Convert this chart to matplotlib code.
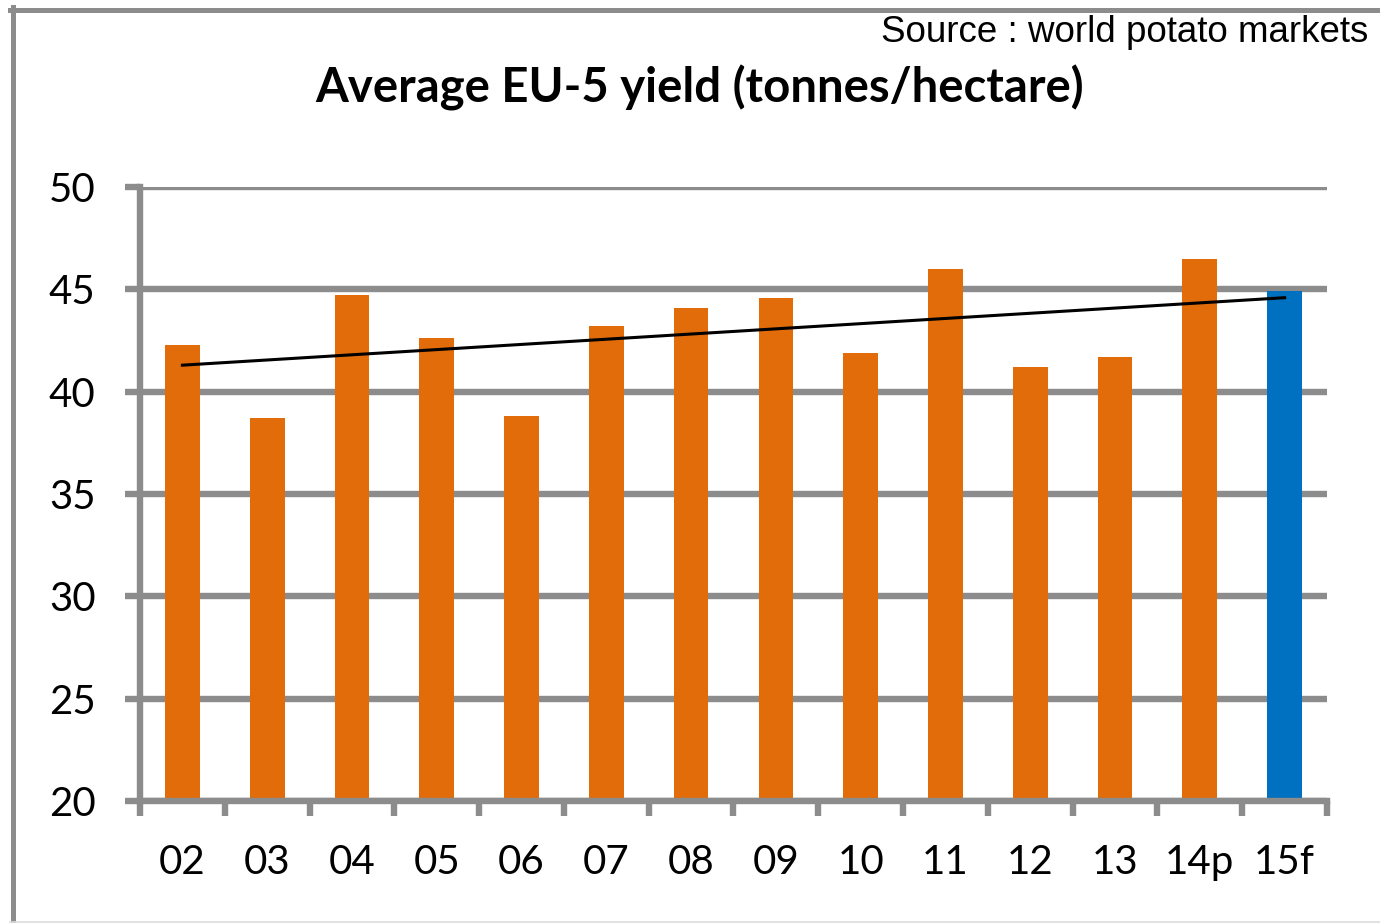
import matplotlib
matplotlib.use("Agg")
import matplotlib.pyplot as plt
import numpy as np
from matplotlib.lines import Line2D

categories = ["02", "03", "04", "05", "06", "07", "08", "09", "10", "11", "12", "13", "14p", "15f"]
yields = [42.3, 38.7, 44.7, 42.6, 38.8, 43.2, 44.1, 44.6, 41.9, 46.0, 41.2, 41.7, 46.5, 44.9]
bar_colors = ["#E36C0A"] * 13 + ["#0070C0"]
yticks = [20, 25, 30, 35, 40, 45, 50]

title = "Average EU-5 yield (tonnes/hectare)"
source = "Source : world potato markets"

GRAY = "#8C8C8C"
LW = 4.6

fig = plt.figure(figsize=(13.8, 9.23), dpi=100)
ax = fig.add_axes([140/1380, 1-801/923, (1327-140)/1380, (801-187)/923])

x = np.arange(len(categories))
ax.bar(x, [v - 20 for v in yields], bottom=20, width=0.41, color=bar_colors, zorder=3)

# linear trend
coef = np.polyfit(x, yields, 1)
ax.plot([x[0], x[-1]], np.polyval(coef, [x[0], x[-1]]), color="black", lw=2.2, zorder=4)

ax.set_xlim(-0.5, len(categories) - 0.5)
ax.set_ylim(20, 50)
ax.set_yticks(yticks)
ax.set_yticklabels([str(t) for t in yticks], fontsize=29, family="Lato")
ax.yaxis.grid(True, color=GRAY, lw=LW, zorder=1)
ax.set_axisbelow(True)

ax.set_xticks(np.arange(-0.5, len(categories), 1.0))
ax.set_xticklabels([])
ax.set_xticks(x, minor=True)
ax.set_xticklabels(categories, minor=True, fontsize=29, family="Lato")
ax.tick_params(axis="x", which="major", length=11, width=LW, color=GRAY, direction="out")
ax.tick_params(axis="x", which="minor", length=0, pad=31)
ax.tick_params(axis="y", length=11, width=LW, color=GRAY, pad=21)

for s in ["top", "right"]:
    ax.spines[s].set_visible(False)
for s in ["left", "bottom"]:
    ax.spines[s].set_color(GRAY)
    ax.spines[s].set_linewidth(LW)
    ax.spines[s].set_zorder(5)

fig.text(700/1380, 1-88/923, title, ha="center", va="center", fontsize=34,
         fontweight="bold", family="Lato")
fig.text(1368/1380, 1-33/923, source, ha="right", va="center", fontsize=26.5,
         family="Liberation Sans")

# figure frame
fig.add_artist(Line2D([12.5/1380, 12.5/1380], [0, 1-7/923], transform=fig.transFigure,
                      color=GRAY, lw=3.6))
fig.add_artist(Line2D([10/1380, 1.0], [1-9.5/923, 1-9.5/923], transform=fig.transFigure,
                      color=GRAY, lw=3.6))
fig.add_artist(Line2D([10/1380, 1.0], [1.2/923, 1.2/923], transform=fig.transFigure,
                      color="#DDDDDD", lw=1.2))

fig.savefig("out.png", dpi=100)
